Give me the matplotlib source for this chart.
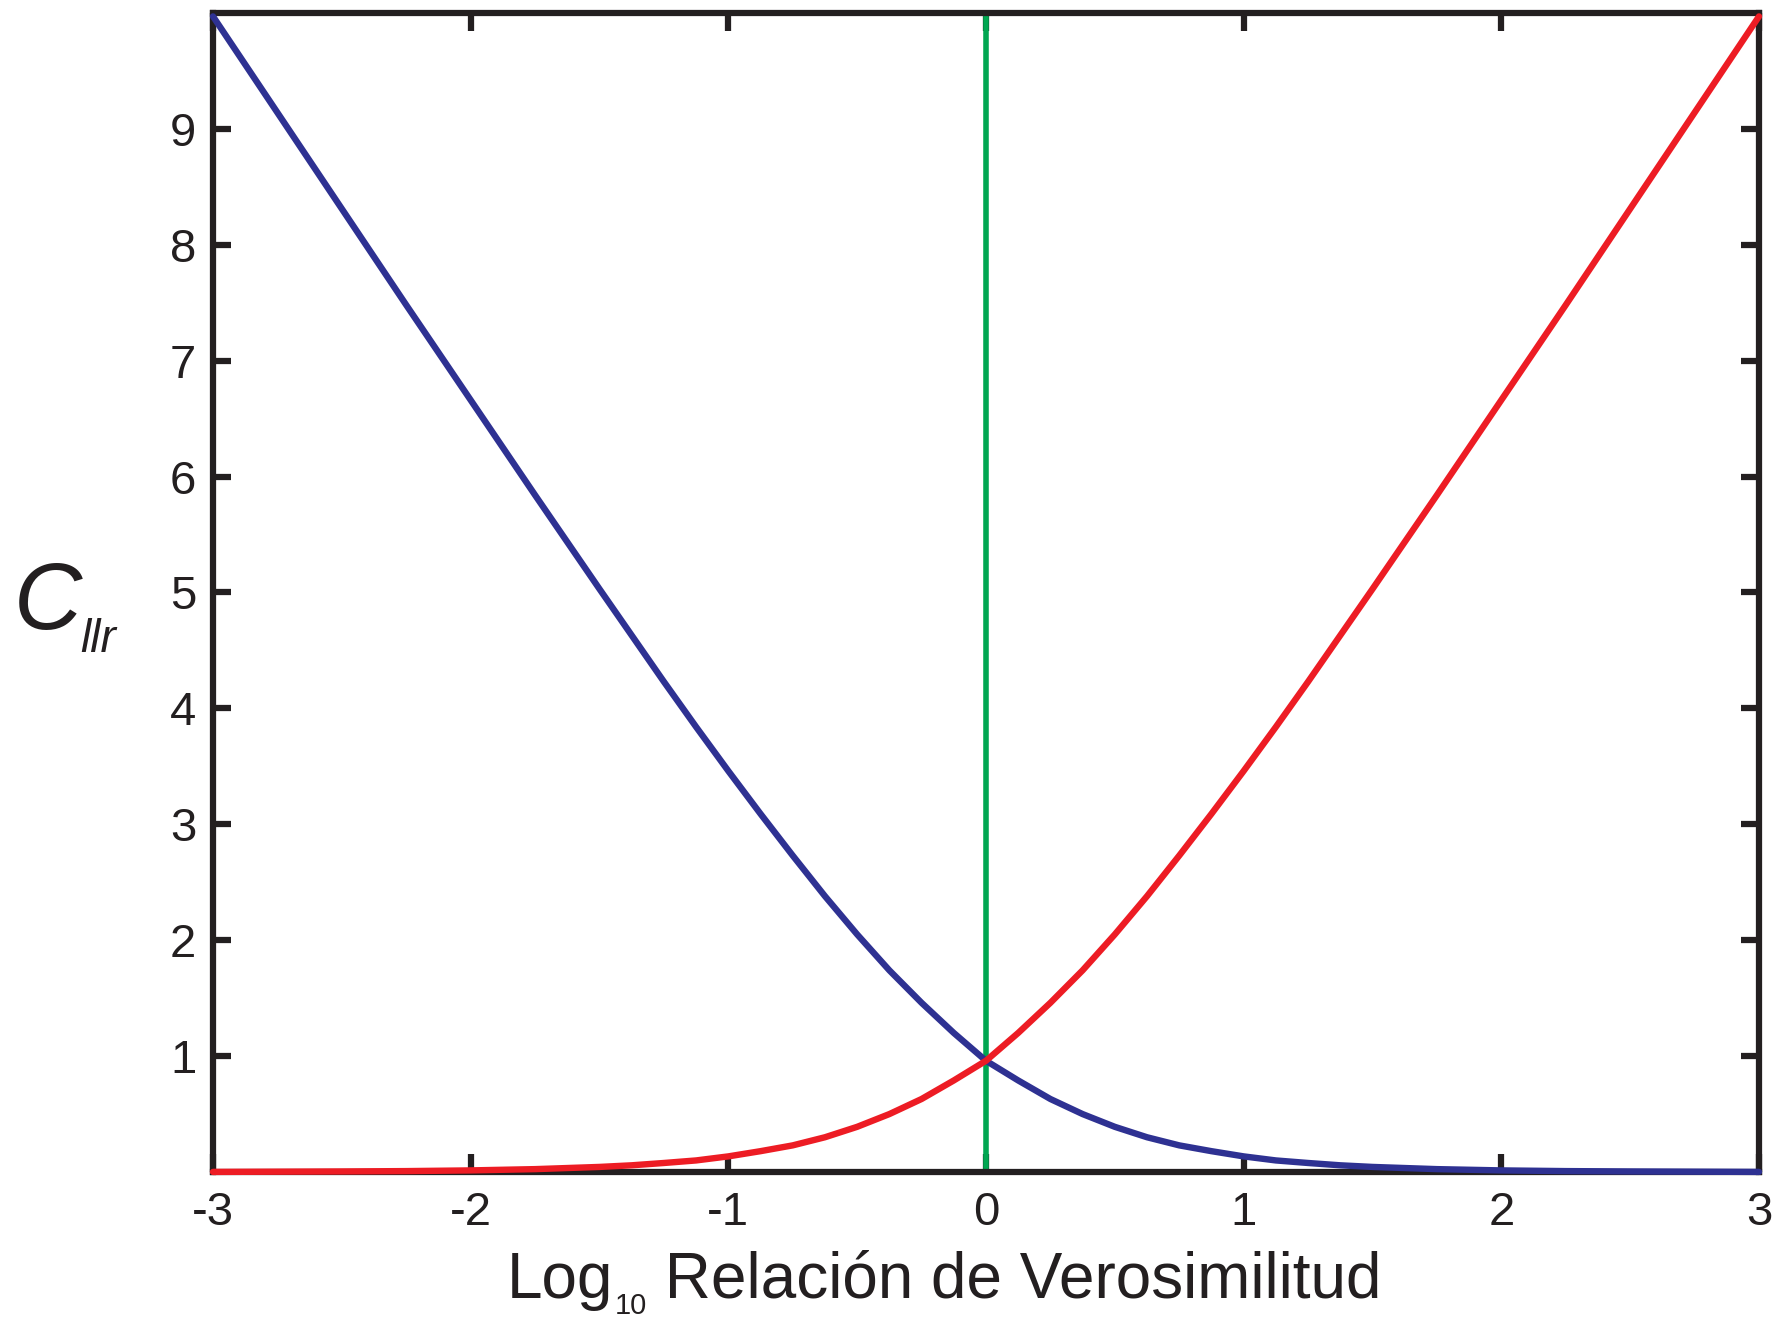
import matplotlib

matplotlib.use("Agg")
import matplotlib.pyplot as plt

plt.rcParams["font.family"] = ["Liberation Sans", "DejaVu Sans"]

# log10 LR (denser around the crossing) and the two Cllr cost curves
log_lr = [-3.0, -2.75, -2.5, -2.25, -2.0, -1.75, -1.5, -1.375, -1.25, -1.125, -1.0,
          -0.875, -0.75, -0.625, -0.5, -0.375, -0.25, -0.125, 0.0, 0.125, 0.25, 0.375,
          0.5, 0.625, 0.75, 0.875, 1.0, 1.125, 1.25, 1.375, 1.5, 1.75, 2.0, 2.25, 2.5,
          2.75, 3.0]
cost_same = [9.97, 9.14, 8.31, 7.48, 6.66, 5.84, 5.03, 4.63, 4.23, 3.84, 3.46,
             3.09, 2.73, 2.38, 2.05, 1.74, 1.46, 1.20, 0.96, 0.79, 0.63, 0.50,
             0.39, 0.30, 0.23, 0.18, 0.135, 0.10, 0.078, 0.058, 0.044, 0.025, 0.014,
             0.008, 0.005, 0.003, 0.001]
cost_diff = [0.001, 0.003, 0.005, 0.008, 0.014, 0.025, 0.044, 0.058, 0.078, 0.10, 0.135,
             0.18, 0.23, 0.30, 0.39, 0.50, 0.63, 0.79, 0.96, 1.20, 1.46, 1.74,
             2.05, 2.38, 2.73, 3.09, 3.46, 3.84, 4.23, 4.63, 5.03, 5.84, 6.66,
             7.48, 8.31, 9.14, 9.97]

x_ticks = [-3, -2, -1, 0, 1, 2, 3]
y_ticks = [1, 2, 3, 4, 5, 6, 7, 8, 9]

BLACK = "#231F20"
BLUE = "#2E3192"
RED = "#ED1C24"
GREEN = "#00A651"

fig = plt.figure(figsize=(17.78, 13.2), dpi=100)
ax = fig.add_axes([0.1198, 0.1121, 0.8695, 0.8781])

ax.plot([0, 0], [0, 10], color=GREEN, lw=4.0, zorder=2)
ax.plot(log_lr, cost_same, color=BLUE, lw=4.6, zorder=3, clip_on=False,
        solid_capstyle="round", solid_joinstyle="round")
ax.plot(log_lr, cost_diff, color=RED, lw=4.6, zorder=3, clip_on=False,
        solid_capstyle="round", solid_joinstyle="round")

ax.set_xlim(-3, 3)
ax.set_ylim(0, 10)
ax.set_xticks(x_ticks)
ax.set_xticklabels([str(t) for t in x_ticks])
ax.set_yticks(y_ticks)
ax.set_yticklabels([str(t) for t in y_ticks])

for spine in ax.spines.values():
    spine.set_linewidth(4.5)
    spine.set_color(BLACK)
ax.tick_params(direction="in", length=13, width=4.5, color=BLACK, labelsize=34,
               labelcolor=BLACK, top=True, right=True, pad=12)
ax.tick_params(axis="x", pad=14)

# x label built from pieces so the subscript can be small and low
renderer = fig.canvas.get_renderer()
to_fig = fig.transFigure.inverted()
y_base = 0.0167
t = fig.text(0.285, y_base, "Log", fontsize=46, color=BLACK, va="baseline")
x_cursor = to_fig.transform(t.get_window_extent(renderer))[1][0] + 0.001
t = fig.text(x_cursor, y_base - 0.012, "10", fontsize=21, color=BLACK, va="baseline")
x_cursor = to_fig.transform(t.get_window_extent(renderer))[1][0]
fig.text(x_cursor, y_base, " Relación de Verosimilitud", fontsize=46, color=BLACK,
         va="baseline")

fig.text(0.008, 0.5235, "C", fontsize=68, style="italic", color=BLACK, va="baseline")
fig.text(0.045, 0.506, "llr", fontsize=33, style="italic", color=BLACK, va="baseline")

fig.savefig("out.png", dpi=100)
